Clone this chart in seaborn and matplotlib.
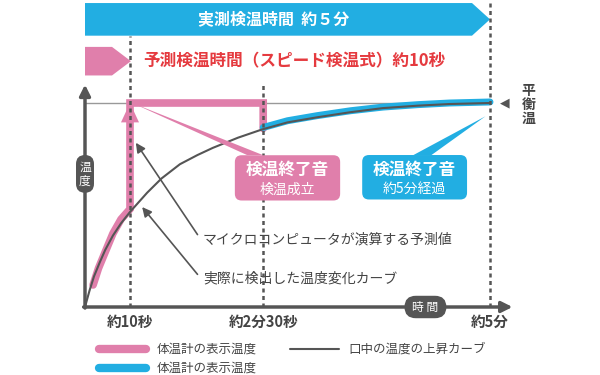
import matplotlib
matplotlib.use("Agg")
import matplotlib.pyplot as plt
import seaborn as sns
from matplotlib.patches import FancyBboxPatch

sns.set_theme(style="white")
plt.rcParams['font.family'] = ['Noto Sans CJK JP', 'DejaVu Sans']

# -----------------------------
# DATA (schematic time units / normalised temperature)
# -----------------------------
curve_x = [0, 0.1, 0.2, 0.33, 0.45, 0.62, 0.8, 1.0, 1.38, 1.7, 2.11, 2.5, 2.84, 3.4,
           3.93, 4.5, 5.16, 5.9, 6.62, 7.4, 8.1, 9]
curve_t = [0, 0.08, 0.15, 0.22, 0.28, 0.35, 0.41, 0.466, 0.56, 0.63, 0.70, 0.745, 0.78,
           0.83, 0.87, 0.905, 0.93, 0.955, 0.975, 0.987, 0.995, 1.0]

pink_x = [0.18, 0.3, 0.45, 0.62, 0.8, 1.0, 1.0, 3.96, 3.96]
pink_t = [0.108, 0.19, 0.27, 0.36, 0.43, 0.48, 1.0, 1.0, 0.875]

blue_x = [3.96, 4.5, 5.16, 5.9, 6.62, 7.4, 8.1, 9]
blue_t = [0.88, 0.913, 0.938, 0.962, 0.98, 0.992, 1.0, 1.005]

tick_pos = [1, 3.96, 9]
tick_labels = ['約10秒', '約2分30秒', '約5分']

BLUE = '#22aee2'
PINK = '#e07fab'
RED = '#e53a3f'
DARK = '#555555'
TXT = '#444444'

# -----------------------------
# FIGURE
# -----------------------------
fig = plt.figure(figsize=(6, 3.75), dpi=100)
ax = fig.add_axes([0, 0, 1, 1])
ax.set_xlim(-85 / 45, 515 / 45)
ax.set_ylim(-68 / 204, 307 / 204)
ax.axis('off')
asp = 45 / 204

# top banners
ax.fill([0, 8.6, 9.0, 8.6, 0], [1.49, 1.49, 1.41, 1.33, 1.33], color=BLUE, lw=0)
ax.text(4.2, 1.41, '実測検温時間  約５分', color='white', fontsize=11.5, fontweight='bold',
        ha='center', va='center')
ax.fill([0, 0.6, 1.02, 0.6, 0], [1.275, 1.275, 1.205, 1.135, 1.135], color=PINK, lw=0)
ax.text(1.3, 1.205, '予測検温時間（スピード検温式）約10秒', color=RED, fontsize=12,
        fontweight='bold', ha='left', va='center')

# equilibrium line
ax.plot([0, 9], [1, 1], color='#999999', lw=1)

# axes with arrows
ax.annotate('', xy=(0, 1.09), xytext=(0, -0.005),
            arrowprops=dict(arrowstyle='-|>', color=DARK, lw=2.5, mutation_scale=16,
                            shrinkA=0, shrinkB=0))
ax.annotate('', xy=(9.5, 0), xytext=(-0.03, 0),
            arrowprops=dict(arrowstyle='-|>', color=DARK, lw=2.5, mutation_scale=16,
                            shrinkA=0, shrinkB=0))

# curves
sns.lineplot(x=pink_x, y=pink_t, sort=False, estimator=None, color=PINK, lw=5.5,
             ax=ax, solid_joinstyle='miter', solid_capstyle='round')
sns.lineplot(x=blue_x, y=blue_t, sort=False, estimator=None, color=BLUE, lw=5,
             ax=ax, solid_capstyle='round')
sns.lineplot(x=curve_x, y=curve_t, sort=False, estimator=None, color=DARK, lw=1.5, ax=ax)
ax.fill([0.8, 1.2, 1.0], [0.905, 0.905, 1.0], color=PINK, lw=0)

# dotted guides (on top of the curves)
dot = (0, (1.6, 1.4))
ax.plot([1, 1], [0, 1.33], color=DARK, lw=1.8, ls=dot, zorder=5)
ax.plot([3.96, 3.96], [0, 1.10], color=DARK, lw=1.8, ls=dot, zorder=5)
ax.plot([9, 9], [0, 1.51], color=DARK, lw=1.8, ls=dot, zorder=5)

# callouts
ax.fill([1.05, 3.6, 3.95], [1.0, 0.745, 0.745], color=PINK, lw=0, zorder=6)
ax.add_patch(FancyBboxPatch((3.33, 0.522), 2.34, 0.222, mutation_aspect=asp,
                            boxstyle='round,pad=0,rounding_size=0.15', color=PINK, lw=0,
                            zorder=6))
ax.text(4.5, 0.67, '検温終了音', color='white', fontsize=12, fontweight='bold',
        ha='center', va='center', zorder=7)
ax.text(4.5, 0.575, '検温成立', color='white', fontsize=10, ha='center', va='center',
        zorder=7)

ax.fill([8.9, 7.3, 7.7], [0.935, 0.745, 0.745], color=BLUE, lw=0, zorder=6)
ax.add_patch(FancyBboxPatch((6.16, 0.527), 2.33, 0.218, mutation_aspect=asp,
                            boxstyle='round,pad=0,rounding_size=0.15', color=BLUE, lw=0,
                            zorder=6))
ax.text(7.32, 0.67, '検温終了音', color='white', fontsize=12, fontweight='bold',
        ha='center', va='center', zorder=7)
ax.text(7.32, 0.58, '約5分経過', color='white', fontsize=10, ha='center', va='center',
        zorder=7)

# equilibrium label
ax.text(9.33, 1.0, '◀', color=DARK, fontsize=9, ha='center', va='center',
        family=['DejaVu Sans'])
ax.text(9.85, 0.99, '平\n衡\n温', color=TXT, fontsize=10, fontweight='bold',
        ha='center', va='center', linespacing=1.0)

# axis pills
ax.add_patch(FancyBboxPatch((-0.2, 0.56), 0.4, 0.185, mutation_aspect=asp,
                            boxstyle='round,pad=0,rounding_size=0.2', color=DARK, lw=0,
                            zorder=6))
ax.text(0, 0.652, '温\n度', color='white', fontsize=8.5, ha='center', va='center',
        linespacing=1.1, zorder=7)
ax.add_patch(FancyBboxPatch((7.1, -0.055), 0.93, 0.11, mutation_aspect=asp,
                            boxstyle='round,pad=0,rounding_size=0.25', color=DARK, lw=0,
                            zorder=6))
ax.text(7.565, 0.0, '時 間', color='white', fontsize=8.5, ha='center', va='center',
        zorder=7)

# tick labels
for p, lab in zip(tick_pos, tick_labels):
    ax.text(p, -0.072, lab, color=TXT, fontsize=10.5, fontweight='bold',
            ha='center', va='center')

# pointer annotations
arrow_kw = dict(arrowstyle='-|>', color=DARK, lw=1.2, mutation_scale=14, shrinkA=0, shrinkB=0)
ax.annotate('', xy=(1.13, 0.805), xytext=(2.5, 0.355), arrowprops=arrow_kw)
ax.annotate('', xy=(1.27, 0.49), xytext=(2.5, 0.16), arrowprops=arrow_kw)
ax.text(2.62, 0.33, 'マイクロコンピュータが演算する予測値', color=TXT, fontsize=10,
        ha='left', va='center')
ax.text(2.62, 0.14, '実際に検出した温度変化カーブ', color=TXT, fontsize=10,
        ha='left', va='center')

# legend
ax.plot([0.3, 1.35], [-0.205, -0.205], color=PINK, lw=6, solid_capstyle='round')
ax.plot([0.3, 1.35], [-0.30, -0.30], color=BLUE, lw=6, solid_capstyle='round')
ax.plot([4.55, 5.65], [-0.205, -0.205], color=DARK, lw=1.5)
ax.text(1.6, -0.205, '体温計の表示温度', color=TXT, fontsize=9, ha='left', va='center')
ax.text(1.6, -0.30, '体温計の表示温度', color=TXT, fontsize=9, ha='left', va='center')
ax.text(5.85, -0.205, '口中の温度の上昇カーブ', color=TXT, fontsize=9, ha='left', va='center')

fig.savefig("out.png", dpi=100)
